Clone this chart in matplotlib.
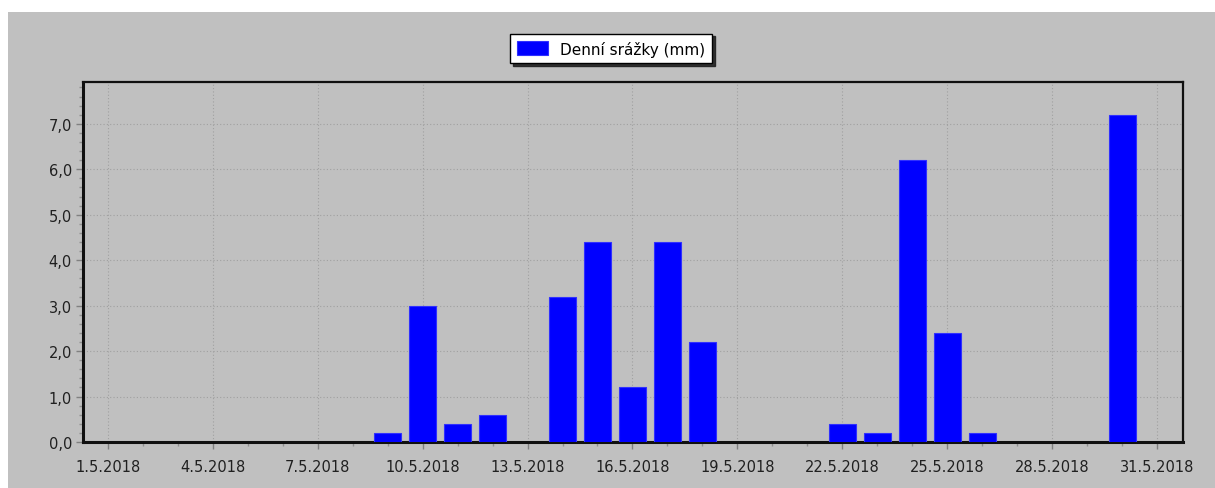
import matplotlib

matplotlib.use("Agg")

import matplotlib.pyplot as plt
from matplotlib.patches import Rectangle
from matplotlib.ticker import MultipleLocator, FixedLocator, FuncFormatter


# daily precipitation, May 2018 (day of month -> mm)
days = [9, 10, 11, 12, 14, 15, 16, 17, 18, 22, 23, 24, 25, 26, 30]
rain_mm = [0.2, 3.0, 0.4, 0.6, 3.2, 4.4, 1.2, 4.4, 2.2, 0.4, 0.2, 6.2, 2.4, 0.2, 7.2]
tick_days = [1, 4, 7, 10, 13, 16, 19, 22, 25, 28, 31]
tick_labels = [f"{d}.5.2018" for d in tick_days]
y_ticks = [0, 1, 2, 3, 4, 5, 6, 7]
series_label = "Denní srážky (mm)"

BG = "#c0c0c0"
W, H = 1215, 489

plt.rcParams["font.family"] = ["DejaVu Sans"]
plt.rcParams["font.size"] = 10.5

fig = plt.figure(figsize=(W / 100, H / 100), dpi=100)
fig.patch.set_facecolor("white")
fig.patches.append(Rectangle((8 / W, 0), 1 - 8 / W, 1 - 13 / H, transform=fig.transFigure,
                             facecolor=BG, edgecolor="none", zorder=-10))

ax = fig.add_axes([83 / W, 1 - 443 / H, (1183 - 83) / W, (443 - 83) / H])
ax.set_facecolor(BG)

ax.bar(days, rain_mm, width=0.77, color="#0000ff", edgecolor="#3030ff", linewidth=0.8,
       label=series_label, zorder=3)

ax.set_xlim(0.29, 31.74)
ax.set_ylim(0, 7.92)

ax.set_xticks(tick_days, tick_labels)
ax.xaxis.set_minor_locator(MultipleLocator(1))
ax.yaxis.set_major_locator(FixedLocator(y_ticks))
ax.yaxis.set_major_formatter(FuncFormatter(lambda v, p: f"{v:.1f}".replace(".", ",")))
ax.yaxis.set_minor_locator(MultipleLocator(0.2))

ax.tick_params(which="major", direction="out", length=5, width=1, color="#808080",
               labelcolor="#202020", labelsize=10.5)
ax.tick_params(axis="x", which="major", pad=7)
ax.tick_params(axis="y", which="major", pad=3)
ax.tick_params(which="minor", direction="out", length=3, width=1, color="#909090")

ax.grid(True, which="major", linestyle=(0, (1, 2)), color="#a0a0a0", linewidth=0.8, zorder=1)
for s in ax.spines.values():
    s.set_linewidth(1.6)
    s.set_color("#101010")
ax.spines["left"].set_linewidth(2.2)
ax.spines["bottom"].set_linewidth(2.2)

leg = ax.legend(loc="upper center", bbox_to_anchor=(611 / W, 1 - 27 / H),
                bbox_transform=fig.transFigure, frameon=True, fancybox=False,
                shadow={"color": "#202020", "alpha": 0.9}, edgecolor="black",
                handlelength=2.0, handleheight=1.0, handletextpad=0.8,
                borderpad=0.45, fontsize=11)
leg.get_frame().set_linewidth(1.0)
leg.get_frame().set_facecolor("white")

fig.savefig("out.png", dpi=100, facecolor=fig.get_facecolor())
